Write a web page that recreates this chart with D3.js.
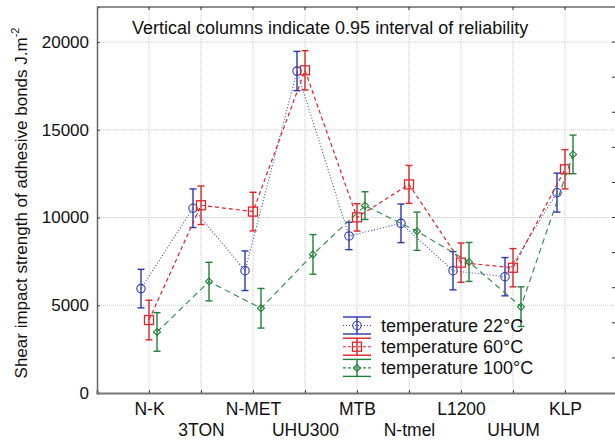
<!DOCTYPE html>
<html><head><meta charset="utf-8">
<script src="https://cdn.jsdelivr.net/npm/d3@7"></script>
<style>body{margin:0;background:#fff}svg{display:block}text{font-family:Arial,"Liberation Sans",sans-serif;fill:#111}</style>
</head><body><svg id="c" width="615" height="445"></svg>
<script>
const categories = ["N-K","3TON","N-MET","UHU300","MTB","N-tmel","L1200","UHUM","KLP"];
const yTicks = [0,5000,10000,15000,20000];
const seriesNames = ["temperature 22°C","temperature 60°C","temperature 100°C"];
const mean22 = [5950,10530,6970,18350,8950,9670,6970,6630,11420];
const err22  = [1100,1100,1130,1120,780,1100,1090,1090,1110];
const mean60 = [4160,10700,10340,18390,10010,11890,7430,7140,12750];
const err60  = [1130,1100,1100,1120,780,1080,1120,1090,1120];
const mean100 = [3480,6350,4830,7900,10680,9220,7470,4920,13600];
const err100  = [1100,1100,1130,1130,790,1090,1110,1130,1100];
const title = "Vertical columns indicate 0.95 interval of reliability";

const svg = d3.select("#c");
const L=97, R=617, T=7, B=393;
const x = d3.scaleLinear().domain([0,categories.length+1]).range([L,R]);
const y = d3.scaleLinear().domain([0,22000]).range([B,T]);

// grid
const g = svg.append("g");
g.selectAll(".vg").data(categories).enter().append("line")
 .attr("x1",(d,i)=>x(i+1)).attr("x2",(d,i)=>x(i+1)).attr("y1",T).attr("y2",B)
 .attr("stroke","#c8c8c8").attr("stroke-dasharray","1,1");
g.selectAll(".hg").data(yTicks.filter(v=>v>0)).enter().append("line")
 .attr("x1",L).attr("x2",R).attr("y1",d=>y(d)).attr("y2",d=>y(d))
 .attr("stroke","#c8c8c8").attr("stroke-dasharray","1,1");

// right minor ticks
svg.selectAll(".rt").data(d3.range(2000,22000,2000)).enter().append("line")
 .attr("x1",612).attr("x2",615).attr("y1",d=>y(d)).attr("y2",d=>y(d)).attr("stroke","#333");

// frame
svg.append("line").attr("x1",L).attr("x2",615).attr("y1",T).attr("y2",T).attr("stroke","#222").attr("stroke-width",1.2);
// top ticks
svg.selectAll(".tt").data(categories).enter().append("line")
 .attr("x1",(d,i)=>x(i+1)).attr("x2",(d,i)=>x(i+1)).attr("y1",T).attr("y2",T+3).attr("stroke","#333");

// y axis
const ya = svg.append("g").attr("transform",`translate(${L},0)`)
 .call(d3.axisLeft(y).tickValues(yTicks).tickSize(-3).tickPadding(8).tickFormat(d=>String(d)));
ya.select(".domain").attr("stroke","#666").attr("stroke-width",1.5);
ya.selectAll(".tick line").attr("stroke","#444");
ya.selectAll("text").attr("font-size",17).style("font-family","Arial, 'Liberation Sans', sans-serif").attr("fill","#111");

// x axis
const xa = svg.append("g").attr("transform",`translate(0,${B})`)
 .call(d3.axisBottom(x).tickValues(d3.range(1,categories.length+1)).tickSize(-3).tickFormat(d=>categories[d-1]));
xa.select(".domain").attr("stroke","#777").attr("stroke-width",2.2);
xa.selectAll(".tick line").attr("stroke","#444");
xa.selectAll("text").attr("font-size",17.5).style("font-family","Arial, 'Liberation Sans', sans-serif").attr("fill","#111")
 .attr("y",(d)=> (d%2===1)?10:31).attr("dy","0.71em");

// y label
const yl = svg.append("text").attr("transform","translate(27,203) rotate(-90)").attr("text-anchor","middle").attr("font-size",17);
yl.append("tspan").text("Shear impact strength of adhesive bonds J.m");
yl.append("tspan").attr("font-size",11).attr("dy","-0.7em").text("-2");

// title
svg.append("text").attr("x",132).attr("y",34).attr("font-size",18).text(title);

const series = [
 {name:seriesNames[0], m:mean22, e:err22, off:-8, color:"#2b37b0", line:"#3a48b8", dash:"1,2", lw:1.1, sym:"circle"},
 {name:seriesNames[1], m:mean60, e:err60, off:0, color:"#e0242a", line:"#e0242a", dash:"4,3", lw:1.2, sym:"square"},
 {name:seriesNames[2], m:mean100, e:err100, off:8, color:"#21803a", line:"#2e8a45", dash:"6,4", lw:1.1, sym:"diamond"}
];

function marker(sel, s, cx, cy){
  if(s.sym==="circle") sel.append("circle").attr("cx",cx).attr("cy",cy).attr("r",4.2).attr("fill","none").attr("stroke",s.color).attr("stroke-width",1.1);
  else if(s.sym==="square") sel.append("rect").attr("x",cx-4.5).attr("y",cy-4.5).attr("width",9).attr("height",9).attr("fill","none").attr("stroke",s.color).attr("stroke-width",1.3);
  else sel.append("path").attr("d",`M${cx},${cy-3.5}L${cx+3.5},${cy}L${cx},${cy+3.5}L${cx-3.5},${cy}Z`).attr("fill","none").attr("stroke",s.color).attr("stroke-width",1.1);
}

series.forEach(s=>{
  const sg = svg.append("g");
  const line = d3.line().x((d,i)=>x(i+1)+s.off).y(d=>y(d));
  sg.append("path").attr("d",line(s.m)).attr("fill","none").attr("stroke",s.line).attr("stroke-width",s.lw).attr("stroke-dasharray",s.dash);
  s.m.forEach((v,i)=>{
    const cx = x(i+1)+s.off, lo=y(v-s.e[i]), hi=y(v+s.e[i]);
    sg.append("line").attr("x1",cx).attr("x2",cx).attr("y1",lo).attr("y2",hi).attr("stroke",s.color).attr("stroke-width",1.4);
    sg.append("line").attr("x1",cx-3.5).attr("x2",cx+3.5).attr("y1",lo).attr("y2",lo).attr("stroke",s.color).attr("stroke-width",1.4);
    sg.append("line").attr("x1",cx-3.5).attr("x2",cx+3.5).attr("y1",hi).attr("y2",hi).attr("stroke",s.color).attr("stroke-width",1.4);
    marker(sg,s,cx,y(v));
  });
});

// legend
const lg = svg.append("g");
series.forEach((s,i)=>{
  const cy = 325.5 + i*21.2, x0=343, x1=371, mx=(x0+x1)/2;
  lg.append("line").attr("x1",x0).attr("x2",x1).attr("y1",cy-8.5).attr("y2",cy-8.5).attr("stroke",s.color).attr("stroke-width",1.4);
  lg.append("line").attr("x1",x0).attr("x2",x1).attr("y1",cy+8.5).attr("y2",cy+8.5).attr("stroke",s.color).attr("stroke-width",1.4);
  lg.append("line").attr("x1",mx).attr("x2",mx).attr("y1",cy-8.5).attr("y2",cy+8.5).attr("stroke",s.color).attr("stroke-width",1.4);
  lg.append("line").attr("x1",x0).attr("x2",x1).attr("y1",cy).attr("y2",cy).attr("stroke",s.line).attr("stroke-width",1.1).attr("stroke-dasharray",s.dash==="1,2"?"1,2":"3,2");
  marker(lg,s,mx,cy);
  lg.append("text").attr("x",381).attr("y",cy).attr("dy","0.35em").attr("font-size",18).text(s.name);
});
</script></body></html>
